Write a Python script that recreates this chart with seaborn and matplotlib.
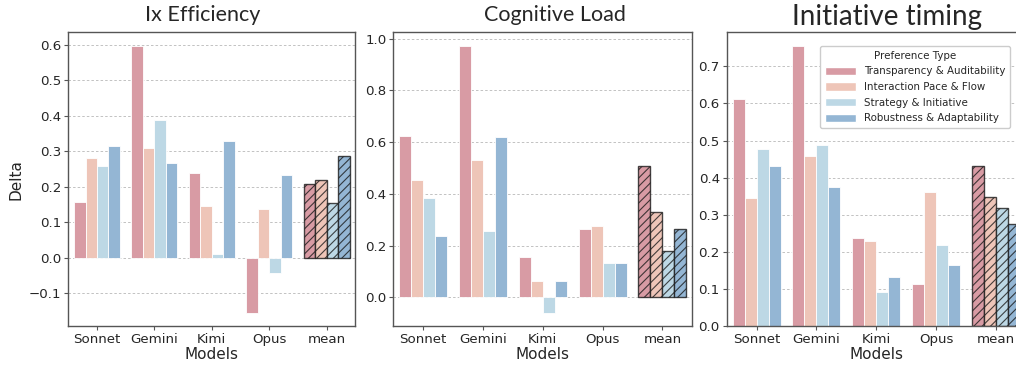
import matplotlib
matplotlib.use("Agg")
import matplotlib.pyplot as plt
import seaborn as sns
import pandas as pd

models = ["Sonnet", "Gemini", "Kimi", "Opus", "mean"]
pref_types = ["Transparency & Auditability", "Interaction Pace & Flow",
              "Strategy & Initiative", "Robustness & Adaptability"]

# Ix Efficiency
ix_transparency = [0.157, 0.598, 0.238, -0.155, 0.209]
ix_pace = [0.280, 0.308, 0.145, 0.137, 0.218]
ix_strategy = [0.258, 0.388, 0.010, -0.042, 0.153]
ix_robustness = [0.315, 0.267, 0.328, 0.233, 0.286]

# Cognitive Load
cl_transparency = [0.625, 0.973, 0.156, 0.263, 0.506]
cl_pace = [0.452, 0.530, 0.062, 0.277, 0.331]
cl_strategy = [0.383, 0.255, -0.059, 0.131, 0.179]
cl_robustness = [0.236, 0.621, 0.062, 0.131, 0.263]

# Initiative timing
it_transparency = [0.611, 0.754, 0.237, 0.114, 0.430]
it_pace = [0.344, 0.457, 0.228, 0.362, 0.348]
it_strategy = [0.477, 0.487, 0.091, 0.217, 0.317]
it_robustness = [0.430, 0.375, 0.131, 0.165, 0.276]

titles = ["Ix Efficiency", "Cognitive Load", "Initiative timing"]
colors = ["#d89ba4", "#eec5b8", "#bdd8e5", "#94b6d4"]


def long_df(series):
    rows = []
    for ptype, vals in zip(pref_types, series):
        for m, v in zip(models, vals):
            rows.append({"Models": m, "Delta": v, "Preference Type": ptype})
    return pd.DataFrame(rows)


panels = [
    [ix_transparency, ix_pace, ix_strategy, ix_robustness],
    [cl_transparency, cl_pace, cl_strategy, cl_robustness],
    [it_transparency, it_pace, it_strategy, it_robustness],
]

sns.set_style("white")
plt.rcParams["font.family"] = ["DejaVu Sans"]
plt.rcParams["hatch.linewidth"] = 0.8

W, H = 1016, 367
fig = plt.figure(figsize=(W / 100, H / 100), dpi=100)

boxes = [(68.3, 287), (393.3, 299), (726.7, 299)]
top_px, bot_px = 32.3, 326
axes = []
for (lx, w) in boxes:
    ax = fig.add_axes([lx / W, 1 - bot_px / H, w / W, (bot_px - top_px) / H])
    axes.append(ax)

for i, (ax, series) in enumerate(zip(axes, panels)):
    df = long_df(series)
    sns.barplot(data=df, x="Models", y="Delta", hue="Preference Type",
                palette=colors, ax=ax, width=0.8, saturation=1,
                edgecolor="white", linewidth=0.6, legend=(i == 2))
    for cont in ax.containers:
        bar = cont.patches[-1]
        bar.set_hatch("////")
        bar.set_edgecolor((0.1, 0.1, 0.1, 0.8))
        bar.set_linewidth(1.0)
    ax.grid(axis="y", linestyle=(0, (3, 2.5)), color="#b8b8b8", linewidth=0.6)
    ax.set_axisbelow(True)
    for s in ax.spines.values():
        s.set_color("#555555")
        s.set_linewidth(1.0)
    ax.tick_params(axis="both", labelsize=9.6, length=3, color="#555555",
                   left=True, bottom=True, pad=2)
    ax.set_xlabel("Models", fontsize=11, labelpad=1)
    if i == 0:
        ax.set_ylabel("Delta", fontsize=11)
    else:
        ax.set_ylabel("")

axes[0].set_yticks([-0.1, 0.0, 0.1, 0.2, 0.3, 0.4, 0.5, 0.6])
axes[1].set_yticks([0.0, 0.2, 0.4, 0.6, 0.8, 1.0])
axes[2].set_yticks([0.0, 0.1, 0.2, 0.3, 0.4, 0.5, 0.6, 0.7])

leg = axes[2].get_legend()
leg.remove()
handles = [plt.Rectangle((0, 0), 1, 1, facecolor=c, edgecolor="white") for c in colors]
fig.legend(handles, pref_types, title="Preference Type", loc="upper right",
           bbox_to_anchor=(1015 / W, 1 - 41 / H), bbox_transform=fig.transFigure,
           fontsize=7.4, title_fontsize=7.4, frameon=True, framealpha=1,
           edgecolor="#cccccc", handlelength=3.0, handleheight=0.9,
           borderpad=0.45, labelspacing=0.55, handletextpad=0.8)

fig.text(203 / W, 1 - 15 / H, titles[0], ha="center", va="center",
         fontsize=15.5, family=["Lato", "DejaVu Sans"])
fig.text(555 / W, 1 - 15 / H, titles[1], ha="center", va="center",
         fontsize=15.5, family=["Lato", "DejaVu Sans"])
fig.text(887 / W, 1 - 17 / H, titles[2], ha="center", va="center",
         fontsize=20, family=["Lato", "DejaVu Sans"])

fig.savefig("out.png", dpi=100)
